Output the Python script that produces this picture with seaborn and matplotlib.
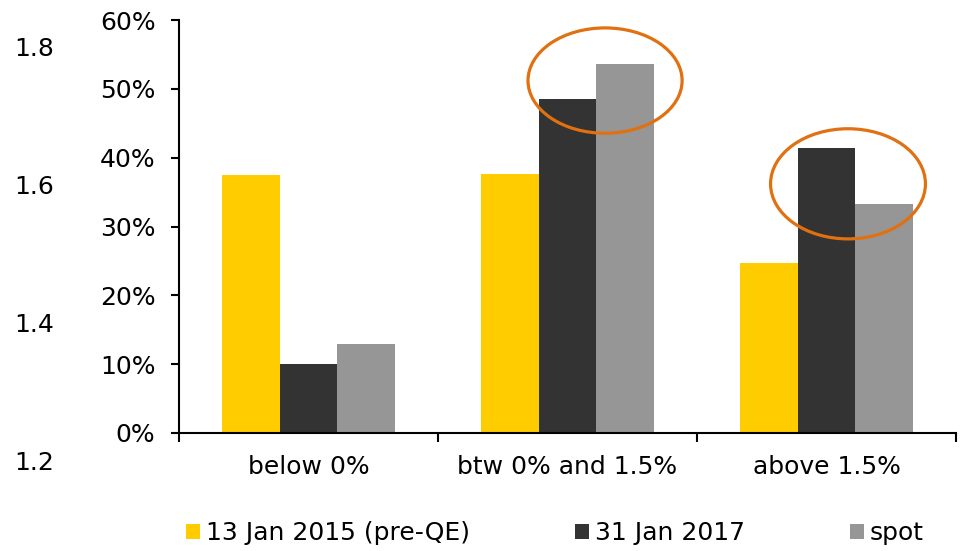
import numpy as np
import pandas as pd
import matplotlib
matplotlib.use("Agg")
import matplotlib.pyplot as plt
from matplotlib.patches import Ellipse, Patch
from matplotlib.ticker import PercentFormatter
import seaborn as sns

# data
buckets = ["below 0%", "btw 0% and 1.5%", "above 1.5%"]
series = ["13 Jan 2015 (pre-QE)", "31 Jan 2017", "spot"]
pre_qe = [37.5, 37.6, 24.7]
jan_2017 = [10.0, 48.5, 41.4]
spot = [12.9, 53.6, 33.3]
colors = ["#FFCC00", "#333333", "#969696"]

# stray left scale printed in the source
left_ticks = [1.2, 1.4, 1.6, 1.8]

# highlight ellipses (centre x, centre y, width, height) in data units
ellipses = [(1.145, 51.2, 0.595, 15.3), (2.083, 36.2, 0.598, 16.0)]

df = pd.DataFrame({
    "bucket": np.repeat(buckets, 3),
    "date": series * 3,
    "share": [v for trio in zip(pre_qe, jan_2017, spot) for v in trio],
})

sns.set_style("white")
plt.rcParams["font.family"] = ["DejaVu Sans"]
plt.rcParams["text.color"] = "black"
plt.rcParams["xtick.color"] = "black"
plt.rcParams["ytick.color"] = "black"
fs = 18

fig = plt.figure(figsize=(9.65, 5.51), dpi=100)
ax = fig.add_axes([179 / 965, 118 / 551, 777 / 965, 413 / 551])

sns.barplot(data=df, x="bucket", y="share", hue="date", order=buckets,
            hue_order=series, palette=colors, saturation=1, width=0.667,
            linewidth=0, ax=ax, legend=False)

ax.set_xlim(-0.5, 2.5)
ax.set_ylim(0, 60)
ax.set_yticks(range(0, 61, 10))
ax.yaxis.set_major_formatter(PercentFormatter(decimals=0))
ax.set_xticks([-0.5, 0.5, 1.5, 2.5])
ax.set_xticklabels([])
ax.set_xticks([0, 1, 2], minor=True)
ax.set_xticklabels(buckets, minor=True)
ax.set_xlabel("")
ax.set_ylabel("")

for s in ["top", "right"]:
    ax.spines[s].set_visible(False)
for s in ["left", "bottom"]:
    ax.spines[s].set_color("black")
    ax.spines[s].set_linewidth(1.5)

ax.tick_params(axis="y", which="major", direction="out", length=6, width=1.5,
               pad=11, labelsize=fs, left=True, color="black", labelcolor="black")
ax.tick_params(axis="x", which="major", direction="out", length=6.5, width=1.5,
               bottom=True, color="black")
ax.tick_params(axis="x", which="minor", length=0, pad=16, labelsize=fs,
               labelcolor="black")

for cx, cy, w, h in ellipses:
    ax.add_patch(Ellipse((cx, cy), w, h, fill=False, edgecolor="#E07010",
                         linewidth=2.3, clip_on=False, zorder=5))

# the extra left-hand scale
ax_l = fig.add_axes([60 / 965, 91 / 551, 0.001, 413 / 551])
ax_l.set_ylim(1.2, 1.8)
ax_l.set_yticks(left_ticks)
ax_l.set_yticklabels([f"{t:.1f}" for t in left_ticks])
ax_l.set_xticks([])
ax_l.patch.set_visible(False)
for s in ax_l.spines.values():
    s.set_visible(False)
ax_l.tick_params(axis="y", length=0, pad=4, labelsize=fs, labelcolor="black")

handles = [Patch(facecolor=c, edgecolor="none") for c in colors]
fig.legend(handles, series, loc="center left", bbox_to_anchor=(186 / 965, 18 / 551),
           ncol=3, frameon=False, fontsize=fs, handlelength=0.55, handleheight=0.55,
           handletextpad=0.25, columnspacing=4.2, borderpad=0, borderaxespad=0)

fig.savefig("out.png", dpi=100)
